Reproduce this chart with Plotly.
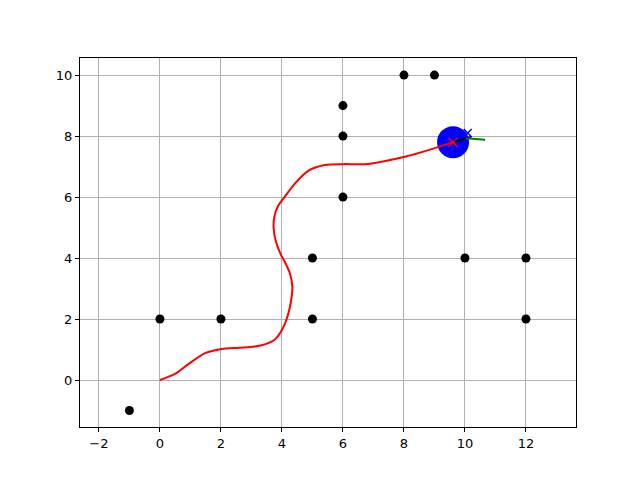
import plotly.graph_objects as go

obs_x = [-1, 0, 2, 5, 5, 6, 6, 6, 8, 9, 10, 12, 12]
obs_y = [-1, 2, 2, 2, 4, 6, 8, 9, 10, 10, 4, 4, 2]

path_x = [0.0, 0.49, 0.93, 1.48, 2.02, 2.6, 3.11, 3.44, 3.77, 4.02, 4.2, 4.3, 4.34, 4.26, 4.12, 3.96, 3.8, 3.73, 3.75, 3.87,
          4.1, 4.43, 4.86, 5.41, 6.01, 6.72, 7.27, 8.03, 8.8, 9.61]
path_y = [0.0, 0.2, 0.52, 0.88, 1.02, 1.06, 1.1, 1.17, 1.33, 1.68, 2.15, 2.6, 3.06, 3.5, 3.82, 4.12, 4.55, 4.95, 5.35, 5.7,
          6.02, 6.45, 6.86, 7.05, 7.08, 7.08, 7.16, 7.32, 7.54, 7.80]

robot_x = [9.61]
robot_y = [7.80]
goal_x = [10.09]
goal_y = [8.10]
head_x = [9.67, 10.2]
head_y = [7.82, 7.97]
green_x = [10.03, 10.66]
green_y = [7.93, 7.88]

fig = go.Figure()
fig.add_trace(go.Scatter(x=obs_x, y=obs_y, mode="markers",
                         marker=dict(color="black", size=9)))
fig.add_trace(go.Scatter(x=robot_x, y=robot_y, mode="markers",
                         marker=dict(color="blue", size=32)))
fig.add_trace(go.Scatter(x=path_x, y=path_y, mode="lines",
                         line=dict(color="red", width=2, shape="spline", smoothing=0.8)))
fig.add_trace(go.Scatter(x=robot_x, y=robot_y, mode="markers",
                         marker=dict(color="red", size=9, symbol="x-thin", line=dict(color="red", width=1.5))))
fig.add_trace(go.Scatter(x=goal_x, y=goal_y, mode="markers",
                         marker=dict(color="blue", size=8, symbol="x-thin", line=dict(color="blue", width=1.5))))
fig.add_trace(go.Scatter(x=head_x, y=head_y, mode="lines",
                         line=dict(color="black", width=2)))
fig.add_trace(go.Scatter(x=green_x, y=green_y, mode="lines",
                         line=dict(color="green", width=2)))

axis_common = dict(showgrid=True, gridcolor="#b0b0b0", gridwidth=1, automargin=False,
                   zeroline=False, showline=True, linecolor="black", linewidth=1,
                   mirror=True, ticks="outside", ticklen=4, tickcolor="black",
                   tickfont=dict(family="DejaVu Sans", size=13, color="black"))
fig.update_xaxes(range=[-2.62, 13.64], tickvals=[-2, 0, 2, 4, 6, 8, 10, 12], **axis_common)
fig.update_yaxes(range=[-1.54, 10.56], tickvals=[0, 2, 4, 6, 8, 10], **axis_common)

fig.update_layout(width=640, height=480, showlegend=False,
                  plot_bgcolor="white", paper_bgcolor="white",
                  margin=dict(l=72, r=72, t=50, b=61))
fig.write_html("out.html")
